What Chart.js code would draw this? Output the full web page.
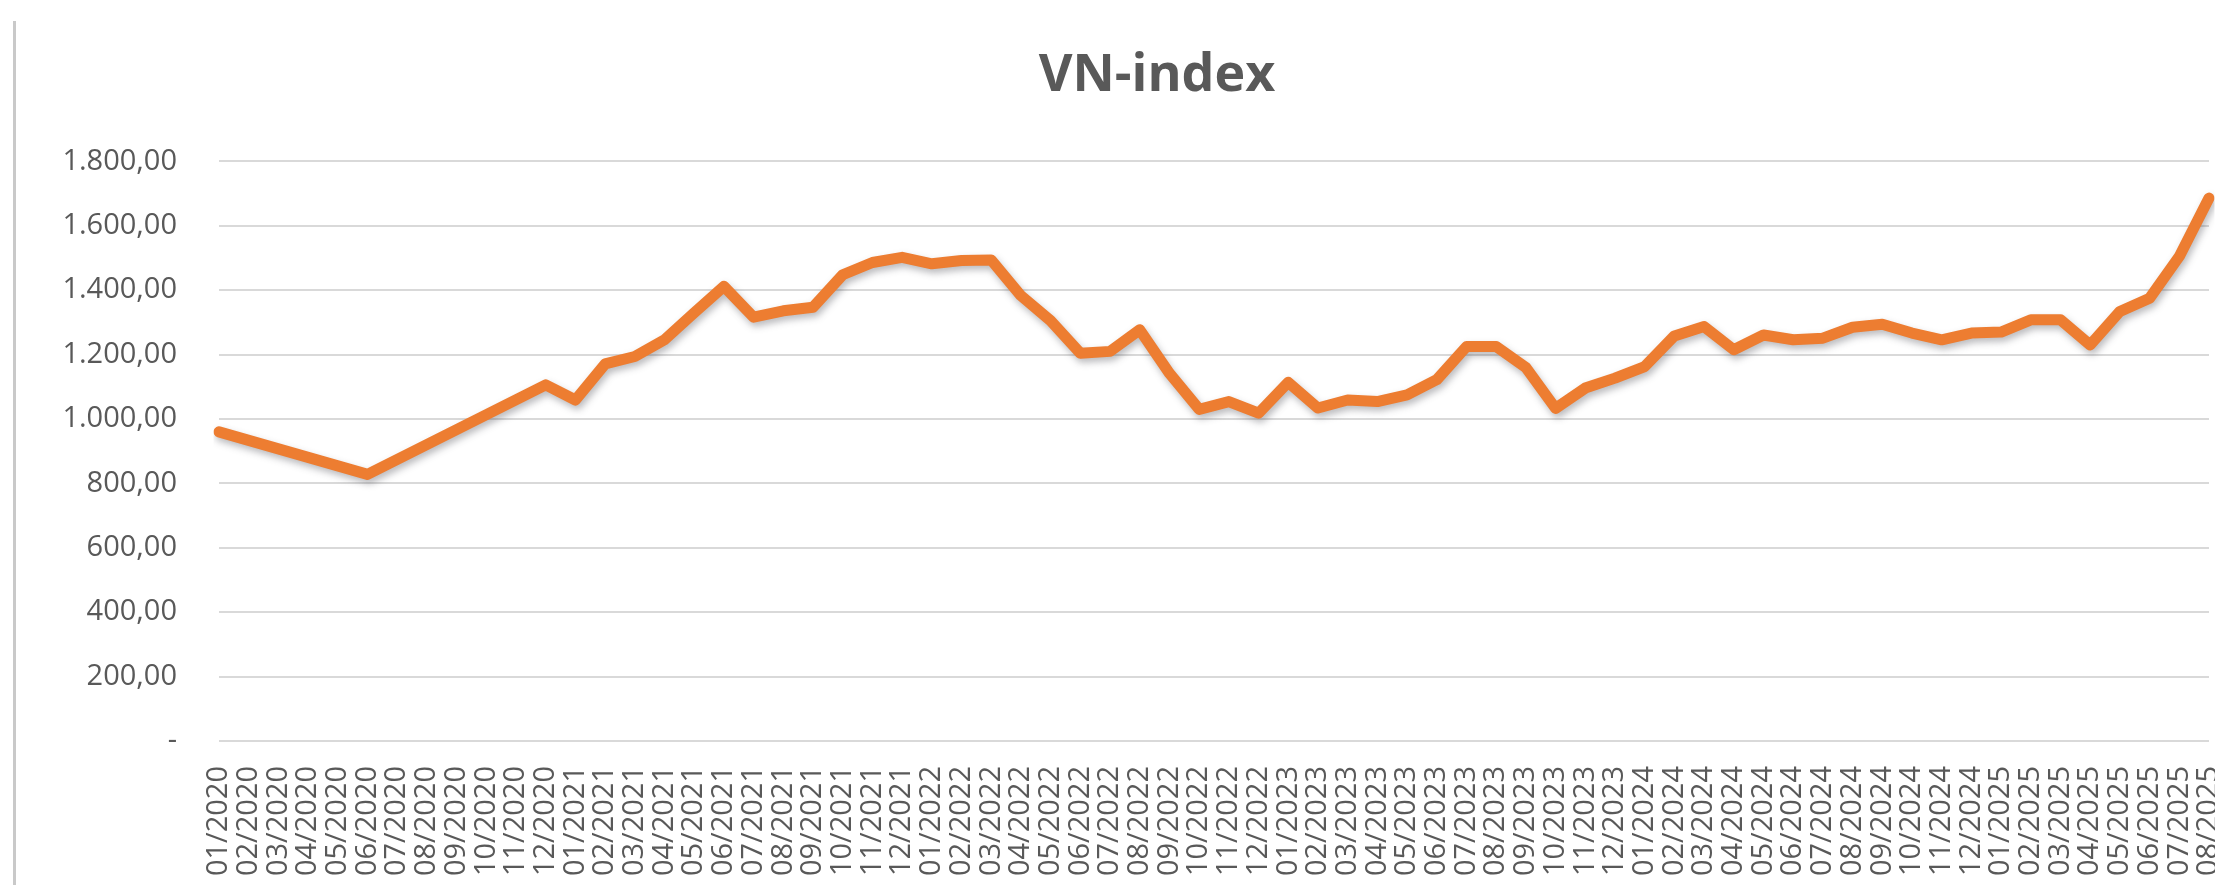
<!DOCTYPE html>
<html>
<head>
<meta charset="utf-8">
<script src="https://cdn.jsdelivr.net/npm/chart.js@4/dist/chart.umd.min.js"></script>
<style>
  html, body { margin: 0; padding: 0; background: #fff; overflow: hidden; }
  #wrap { position: relative; width: 2215px; height: 885px; overflow: hidden; }
  #frame { position: absolute; left: 13px; top: 21px; width: 3px; height: 870px; background: #c9c9c9; }
  #myChart { position: absolute; left: 0; top: 0; }
</style>
</head>
<body>
<div id="wrap">
  <div id="frame"></div>
  <canvas id="myChart" width="2314" height="885"></canvas>
</div>
<script>
// months on the category axis
const months = [
  "01/2020", "02/2020", "03/2020", "04/2020", "05/2020", "06/2020",
  "07/2020", "08/2020", "09/2020", "10/2020", "11/2020", "12/2020",
  "01/2021", "02/2021", "03/2021", "04/2021", "05/2021", "06/2021",
  "07/2021", "08/2021", "09/2021", "10/2021", "11/2021", "12/2021",
  "01/2022", "02/2022", "03/2022", "04/2022", "05/2022", "06/2022",
  "07/2022", "08/2022", "09/2022", "10/2022", "11/2022", "12/2022",
  "01/2023", "02/2023", "03/2023", "04/2023", "05/2023", "06/2023",
  "07/2023", "08/2023", "09/2023", "10/2023", "11/2023", "12/2023",
  "01/2024", "02/2024", "03/2024", "04/2024", "05/2024", "06/2024",
  "07/2024", "08/2024", "09/2024", "10/2024", "11/2024", "12/2024",
  "01/2025", "02/2025", "03/2025", "04/2025", "05/2025", "06/2025",
  "07/2025", "08/2025"
];

// VN-index values (null = no value, line is joined across)
const vnIndex = [
  960, null, null, null, null, 828,
  null, null, null, null, null, 1106,
  1059, 1171, 1194, 1246, 1330, 1412,
  1316, 1336, 1347, 1448, 1486, 1502,
  1482, 1492, 1494, 1383, 1305, 1204,
  1210, 1277, 1142, 1030, 1054, 1018,
  1114, 1034, 1059, 1054, 1075, 1122,
  1225, 1225, 1160, 1033, 1096, 1127,
  1163, 1258, 1287, 1215, 1261, 1246,
  1251, 1285, 1294, 1267, 1246, 1267,
  1270, 1308, 1308, 1230, 1334, 1375,
  1505, 1686
];

// y axis ticks
const yTicks = [0, 200, 400, 600, 800, 1000, 1200, 1400, 1600, 1800];
const yTickLabels = ["-", "200,00", "400,00", "600,00", "800,00", "1.000,00",
  "1.200,00", "1.400,00", "1.600,00", "1.800,00"];

const textColor = "#595959";
const fontFamily = "'Open Sans', 'Liberation Sans', sans-serif";

// soft shadow under the line, like the Excel effect
const lineShadow = {
  id: "lineShadow",
  beforeDatasetDraw(chart) {
    const ctx = chart.ctx;
    ctx.save();
    ctx.shadowColor = "rgba(60, 60, 70, 0.35)";
    ctx.shadowBlur = 7;
    ctx.shadowOffsetX = 2;
    ctx.shadowOffsetY = 4;
  },
  afterDatasetDraw(chart) {
    chart.ctx.restore();
  }
};

new Chart("myChart", {
  type: "line",
  data: {
    labels: months,
    datasets: [
      {
        label: "VN-index",
        data: vnIndex,
        borderColor: "#ED7D31",
        borderWidth: 11,
        borderJoinStyle: "round",
        borderCapStyle: "round",
        pointRadius: 0,
        tension: 0,
        spanGaps: true,
        fill: false
      }
    ]
  },
  options: {
    responsive: false,
    devicePixelRatio: 1,
    animation: false,
    layout: { padding: 0 },
    plugins: {
      legend: { display: false },
      tooltip: { enabled: false },
      title: {
        display: true,
        text: "VN-index",
        color: textColor,
        font: { family: fontFamily, size: 52, weight: "bold" },
        padding: { top: 45, bottom: 54 }
      }
    },
    scales: {
      x: {
        grid: { display: false, drawTicks: false },
        border: { display: false },
        ticks: {
          autoSkip: false,
          minRotation: 90,
          maxRotation: 90,
          padding: 25,
          color: textColor,
          font: { family: fontFamily, size: 29 }
        },
        afterFit(scale) {
          scale.height = 144;
        }
      },
      y: {
        min: 0,
        max: 1800,
        afterBuildTicks(scale) {
          scale.ticks = yTicks.map((v) => ({ value: v }));
        },
        grid: { color: "#d9d9d9", lineWidth: 2, drawTicks: false },
        border: { display: false },
        ticks: {
          padding: 42,
          color: textColor,
          font: { family: fontFamily, size: 29 },
          callback: (value) => yTickLabels[yTicks.indexOf(value)]
        },
        afterFit(scale) {
          scale.width = 219;
        }
      },
      // empty right-hand box: the chart is cropped on the right in the picture
      yRight: {
        position: "right",
        grid: { display: false, drawTicks: false },
        border: { display: false },
        ticks: { display: false },
        afterFit(scale) {
          scale.width = 105;
        }
      }
    }
  },
  plugins: [lineShadow]
});
</script>
</body>
</html>
